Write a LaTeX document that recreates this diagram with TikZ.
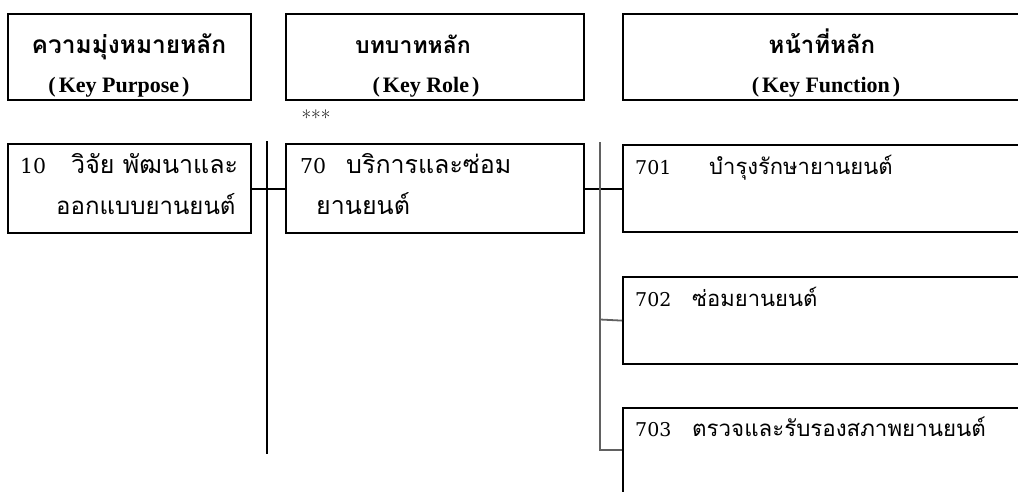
\documentclass[tikz,border=0pt]{standalone}
\usepackage{fontspec}
\newfontfamily\thai[Script=Thai]{Loma}
\newfontfamily\tnr{Liberation Serif}
\newfontfamily\dig{DejaVu Serif}
\usetikzlibrary{calc}
\tikzset{
  box/.style={draw=black, line width=2.2pt, rectangle, inner sep=0pt},
  conn/.style={draw=black, line width=1.8pt},
  gconn/.style={draw=black!62, line width=1.8pt},
  txt/.style={inner sep=0pt, anchor=base west},
  ctxt/.style={inner sep=0pt, anchor=base}
}
\begin{document}
\begin{tikzpicture}[x=1pt,y=-1pt]
\useasboundingbox (0,0) rectangle (1018,491);
\clip (0,0) rectangle (1018,491);
% header boxes
\node[box, minimum width=243pt, minimum height=86pt, anchor=north west] (h1) at (7,13) {};
\node[box, minimum width=298pt, minimum height=86pt, anchor=north west] (h2) at (285,13) {};
\node[box, minimum width=408pt, minimum height=86pt, anchor=north west] (h3) at (622,13) {};
\node[ctxt] (h1a) at (129,53) {\thai\bfseries\fontsize{24.5}{26}\selectfont ความมุ่งหมายหลัก};
\node[ctxt] (h1b) at (119,92) {\tnr\bfseries\fontsize{22}{24}\selectfont (\kern3pt Key Purpose\kern3pt)};
\node[ctxt] (h2a) at (413,53) {\thai\bfseries\fontsize{23}{26}\selectfont บทบาทหลัก};
\node[ctxt] (h2b) at (426,92) {\tnr\bfseries\fontsize{22}{24}\selectfont (\kern3pt Key Role\kern3pt)};
\node[ctxt] (h3a) at (822,53) {\thai\bfseries\fontsize{24}{26}\selectfont หน้าที่หลัก};
\node[ctxt] (h3b) at (826,92) {\tnr\bfseries\fontsize{22}{24}\selectfont (\kern3pt Key Function\kern3pt)};
\node[ctxt] (stars) at (316,125) {\fontsize{21}{22}\selectfont ***};
% row boxes
\node[box, minimum width=243pt, minimum height=89pt, anchor=north west] (r1) at (7,143) {};
\node[box, minimum width=298pt, minimum height=89pt, anchor=north west] (r2) at (285,143) {};
\node[box, minimum width=408pt, minimum height=87pt, anchor=north west] (f1) at (622,144) {};
\node[box, minimum width=408pt, minimum height=87pt, anchor=north west] (f2) at (622,276) {};
\node[box, minimum width=408pt, minimum height=113pt, anchor=north west] (f3) at (622,407) {};
% texts
\node[txt] (t10) at (20,173) {\dig\fontsize{20.5}{22}\selectfont 10};
\node[txt] (t10a) at (71,173) {\thai\fontsize{25}{28}\selectfont วิจัย พัฒนาและ};
\node[txt] (t10b) at (56,214) {\thai\fontsize{24}{28}\selectfont ออกแบบยานยนต์};
\node[txt] (t70) at (300,173) {\dig\fontsize{20.5}{22}\selectfont 70};
\node[txt] (t70a) at (346,173) {\thai\fontsize{25}{28}\selectfont บริการและซ่อม};
\node[txt] (t70b) at (316,214) {\thai\fontsize{25}{28}\selectfont ยานยนต์};
\node[txt] (t701) at (635,174) {\dig\fontsize{19}{22}\selectfont 701};
\node[txt] (t701a) at (709,174) {\thai\fontsize{22}{26}\selectfont บำรุงรักษายานยนต์};
\node[txt] (t702) at (635,306) {\dig\fontsize{19}{22}\selectfont 702};
\node[txt] (t702a) at (692,306) {\thai\fontsize{22}{26}\selectfont ซ่อมยานยนต์};
\node[txt] (t703) at (635,436) {\dig\fontsize{19}{22}\selectfont 703};
\node[txt] (t703a) at (692,436) {\thai\fontsize{22.3}{26}\selectfont ตรวจและรับรองสภาพยานยนต์};
% connectors
\coordinate (v1t) at (267,141);
\coordinate (v1b) at (267,454);
\coordinate (v2t) at (600,142);
\coordinate (v2b) at (600,450);
\coordinate (v2m) at (600,319.5);
\draw[conn] (v1t) -- (v1b);
\draw[conn] (r1.east) -- (r2.west);
\draw[conn] (r2.east) -- (f1.west);
\draw[gconn] (v2t) -- (v2b) -- (v2b -| f3.west);
\draw[gconn] (v2m) -- (f2.west);
\end{tikzpicture}
\end{document}
